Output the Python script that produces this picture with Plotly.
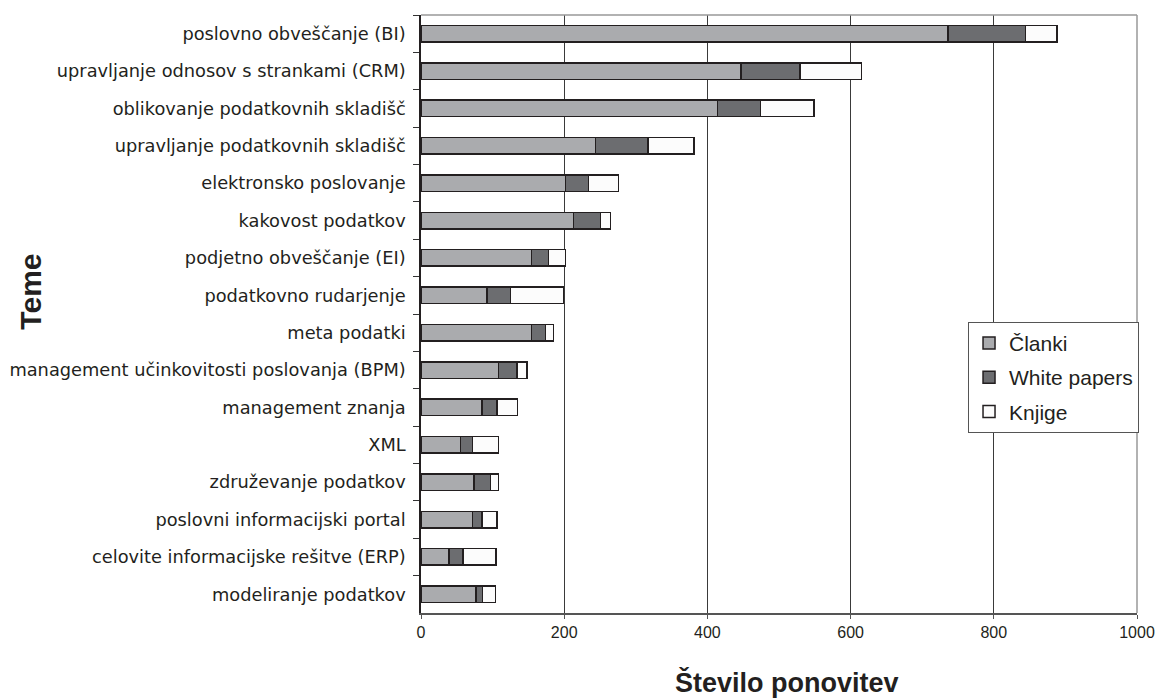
import plotly.graph_objects as go

# Topics, top to bottom
teme = [
    "poslovno obveščanje (BI)",
    "upravljanje odnosov s strankami (CRM)",
    "oblikovanje podatkovnih skladišč",
    "upravljanje podatkovnih skladišč",
    "elektronsko poslovanje",
    "kakovost podatkov",
    "podjetno obveščanje (EI)",
    "podatkovno rudarjenje",
    "meta podatki",
    "management učinkovitosti poslovanja (BPM)",
    "management znanja",
    "XML",
    "združevanje podatkov",
    "poslovni informacijski portal",
    "celovite informacijske rešitve (ERP)",
    "modeliranje podatkov",
]

# Number of occurrences per source type
clanki = [736, 447, 414, 244, 202, 213, 154, 92, 154, 108, 85, 55, 74, 72, 39, 77]
white_papers = [108, 82, 60, 73, 32, 38, 24, 33, 20, 26, 21, 17, 23, 13, 20, 9]
knjige = [44, 86, 75, 64, 42, 14, 24, 74, 11, 14, 29, 36, 11, 21, 46, 18]

x_ticks = [0, 200, 400, 600, 800, 1000]

series = [
    ("Članki", clanki, "#AAABAE"),
    ("White papers", white_papers, "#6C6D70"),
    ("Knjige", knjige, "#FCFCFC"),
]

ARIAL = "Liberation Sans, Arial, sans-serif"

fig = go.Figure()
for name, vals, color in series:
    fig.add_trace(go.Bar(
        y=teme, x=vals, name=name, orientation="h",
        legendgroup=name,
        marker=dict(color=color, line=dict(color="#231F20", width=1.5)),
    ))

fig.update_layout(
    barmode="stack",
    bargap=0.56,
    width=1158, height=698,
    margin=dict(l=421, r=21, t=15, b=85, autoexpand=False),
    plot_bgcolor="white", paper_bgcolor="white",
    font=dict(family=ARIAL, color="#231F20"),
    showlegend=True,
    legend=dict(
        x=0.764, y=0.487, xanchor="left", yanchor="top",
        bgcolor="white", bordercolor="#555", borderwidth=1,
        font=dict(size=21, family=ARIAL, color="#231F20"),
        traceorder="grouped", tracegroupgap=4,
        itemclick=False,
    ),
    xaxis=dict(
        range=[0, 1000], tickvals=x_ticks, automargin=False,
        showgrid=True, gridcolor="#3a3a3a", gridwidth=1,
        ticks="outside", ticklen=4, tickcolor="#555",
        showline=True, linecolor="#555", linewidth=1.5,
        tickfont=dict(size=16, family=ARIAL, color="#231F20"),
        zeroline=False,
    ),
    yaxis=dict(
        categoryorder="array", categoryarray=teme, autorange="reversed",
        automargin=False,
        tickson="boundaries", ticks="outside", ticklen=6, tickcolor="#333",
        showline=True, linecolor="#231F20", linewidth=1.5,
        showgrid=False,
        ticklabelstandoff=10,
        tickfont=dict(size=17.8, family="DejaVu Sans, Verdana, sans-serif", color="#231F20"),
    ),
)

# Light frame along the top and right of the plot area
fig.add_shape(type="line", xref="x domain", yref="y domain",
              x0=0, x1=1, y0=1, y1=1, line=dict(color="#999", width=1.5))
fig.add_shape(type="line", xref="x domain", yref="y domain",
              x0=1, x1=1, y0=0, y1=1, line=dict(color="#999", width=1.5))

# Axis titles
fig.add_annotation(text="<b>Število ponovitev</b>", xref="paper", yref="paper",
                   x=0.511, y=-0.117, xanchor="center", yanchor="middle",
                   showarrow=False,
                   font=dict(size=27, family=ARIAL, color="#231F20"))
fig.add_annotation(text="<b>Teme</b>", xref="paper", yref="paper",
                   x=-0.545, y=0.537, xanchor="center", yanchor="middle",
                   textangle=-90, showarrow=False,
                   font=dict(size=30, family=ARIAL, color="#231F20"))

fig.write_html("out.html")
